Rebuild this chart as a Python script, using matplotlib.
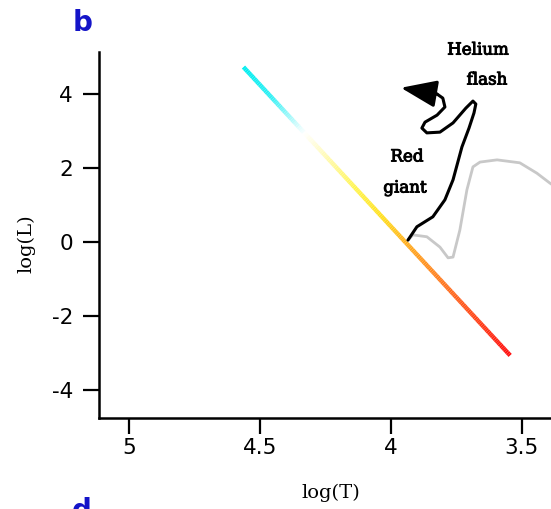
import numpy as np
import matplotlib
matplotlib.use("Agg")
import matplotlib.pyplot as plt
import matplotlib.patheffects as pe
from matplotlib.collections import LineCollection
from matplotlib.colors import LinearSegmentedColormap

plt.rcParams['axes.unicode_minus'] = False

# Main sequence endpoints (logT, logL)
ms_logT = [4.563, 3.545]
ms_logL = [4.73, -3.07]

# Red giant / helium flash track (black)
rg_logT = [3.935, 3.901, 3.840, 3.794, 3.763, 3.729, 3.702, 3.683, 3.676, 3.687,
           3.714, 3.763, 3.813, 3.863, 3.882, 3.870, 3.824, 3.794, 3.802, 3.824, 3.851]
rg_logL = [0.05, 0.41, 0.68, 1.14, 1.68, 2.57, 3.08, 3.49, 3.73, 3.81,
           3.62, 3.22, 2.97, 2.95, 3.08, 3.24, 3.43, 3.65, 3.89, 4.00, 4.00]
arrow_base = (3.824, 4.00)
arrow_tip = (3.962, 4.17)

# Gray track
gr_logT = [3.935, 3.916, 3.863, 3.813, 3.782, 3.763, 3.737, 3.710, 3.687, 3.660,
           3.595, 3.508, 3.443, 3.393, 3.37]
gr_logL = [0.05, 0.19, 0.14, -0.14, -0.43, -0.41, 0.32, 1.41, 2.03, 2.16,
           2.22, 2.14, 1.86, 1.59, 1.48]

xticks = [5, 4.5, 4, 3.5]
xticklabels = ['5', '4.5', '4', '3.5']
yticks = [4, 2, 0, -2, -4]
yticklabels = ['4', '2', '0', '-2', '-4']

fig = plt.figure(figsize=(5.51, 5.09), dpi=100)
ax = fig.add_axes([0.179, 0.179, 0.821, 0.719])
ax.set_xlim(5.116, 3.389)
ax.set_ylim(-4.76, 5.14)

# gradient main sequence
cmap = LinearSegmentedColormap.from_list('ms', [
    (0.0, '#00eef0'), (0.1, '#30f0f4'), (0.226, '#ffffff'), (0.42, '#fff550'),
    (0.52, '#ffe020'), (0.61, '#ffb020'), (0.77, '#ff7020'), (1.0, '#ff1010')])
n = 200
t = np.linspace(0, 1, n)
xs = ms_logT[0] + (ms_logT[1] - ms_logT[0]) * t
ys = ms_logL[0] + (ms_logL[1] - ms_logL[0]) * t
pts = np.array([xs, ys]).T.reshape(-1, 1, 2)
segs = np.concatenate([pts[:-1], pts[1:]], axis=1)
lc = LineCollection(segs, cmap=cmap, linewidths=3.2, capstyle='butt')
lc.set_array(t[:-1])
ax.add_collection(lc)

ax.plot(gr_logT, gr_logL, color='#c8c8c8', lw=2.0, solid_capstyle='round', clip_on=False)
ax.plot(rg_logT, rg_logL, color='black', lw=2.2, solid_capstyle='round', solid_joinstyle='round')
ax.annotate('', xy=arrow_tip, xytext=arrow_base,
            arrowprops=dict(arrowstyle='-|>,head_length=1.1,head_width=0.42',
                            mutation_scale=20, lw=2.2, color='black',
                            shrinkA=0, shrinkB=0))

stroke = [pe.withStroke(linewidth=0.7, foreground='black')]
tkw = dict(family='DejaVu Serif', fontsize=12, ha='center', va='center', clip_on=False,
           path_effects=stroke)
ax.text(3.668, 5.19, 'Helium', **tkw)
ax.text(3.634, 4.38, 'flash', **tkw)
ax.text(3.939, 2.30, 'Red', **tkw)
ax.text(3.947, 1.46, 'giant', **tkw)

for s in ['top', 'right']:
    ax.spines[s].set_visible(False)
for s in ['left', 'bottom']:
    ax.spines[s].set_linewidth(1.8)
ax.tick_params(direction='out', length=11.5, width=1.6, labelsize=15.5)
ax.tick_params(axis='x', pad=3)
ax.tick_params(axis='y', pad=7)
ax.set_xticks(xticks)
ax.set_xticklabels(xticklabels)
ax.set_yticks(yticks)
ax.set_yticklabels(yticklabels)

fig.text(0.601, 0.031, 'log(T)', family='DejaVu Serif', fontsize=14, ha='center', va='center')
fig.text(0.047, 0.522, 'log(L)', family='DejaVu Serif', fontsize=14, ha='center', va='center', rotation=90)
fig.text(0.149, 0.955, 'b', color='#1414c8', fontsize=20, fontweight='bold', ha='center', va='center')
fig.text(0.149, 0.0236, 'd', color='#1414c8', fontsize=20, fontweight='bold', ha='center', va='top')

fig.savefig('out.png', dpi=100)
